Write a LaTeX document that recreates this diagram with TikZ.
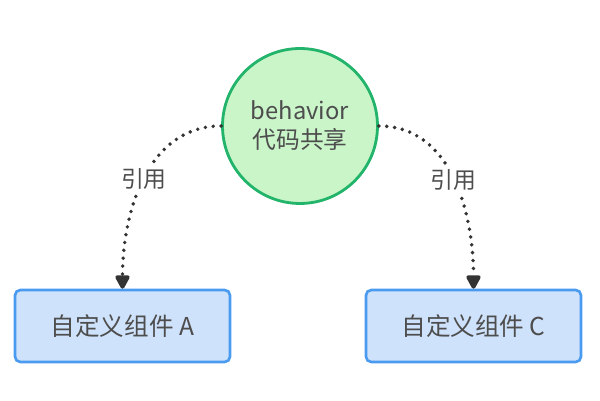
\documentclass[tikz,border=0pt]{standalone}
\usepackage{fontspec}
\setmainfont{Noto Sans CJK SC}
\usepackage{xcolor}
\usetikzlibrary{arrows.meta,positioning}

\definecolor{shareFill}{HTML}{C9F5C9}
\definecolor{shareLine}{HTML}{22B46A}
\definecolor{compFill}{HTML}{CFE2FB}
\definecolor{compLine}{HTML}{4A9BF0}
\definecolor{txtGray}{HTML}{4D4D4D}
\definecolor{refLine}{HTML}{333333}

\tikzset{
  share/.style={circle,draw=shareLine,fill=shareFill,line width=1.6pt,
    minimum size=3.1cm,align=center,text=txtGray,font=\fontsize{13.5}{16.5}\selectfont},
  comp/.style={draw=compLine,fill=compFill,line width=1.5pt,rounded corners=3pt,
    minimum width=4.3cm,minimum height=1.44cm,text=txtGray,font=\fontsize{14}{16}\selectfont},
  ref/.style={refLine,line width=2.2pt,line cap=round,dash pattern=on 0pt off 4.5pt,
    -{Triangle[width=9pt,length=9pt,round=false]}},
  reflabel/.style={fill=white,text=txtGray,inner sep=2pt,font=\fontsize{13}{15}\selectfont}
}

\begin{document}
\begin{tikzpicture}[x=0.02cm, y=-0.02cm]
    \useasboundingbox (0,0) rectangle (600,401);
    \node[share] (beh) at (300,126) {behavior\\代码共享};
    \node[comp] (compA) at (122.5,326) {自定义组件 A};
    \node[comp] (compC) at (473.5,326) {自定义组件 C};
    % references from the shared behavior
    \draw[ref] (beh.west) to[out=180,in=90] node[reflabel] {引用} (compA.north);
    \draw[ref] (beh.east) to[out=0,in=90] node[reflabel] {引用} (compC.north);
  \end{tikzpicture}
\end{document}
